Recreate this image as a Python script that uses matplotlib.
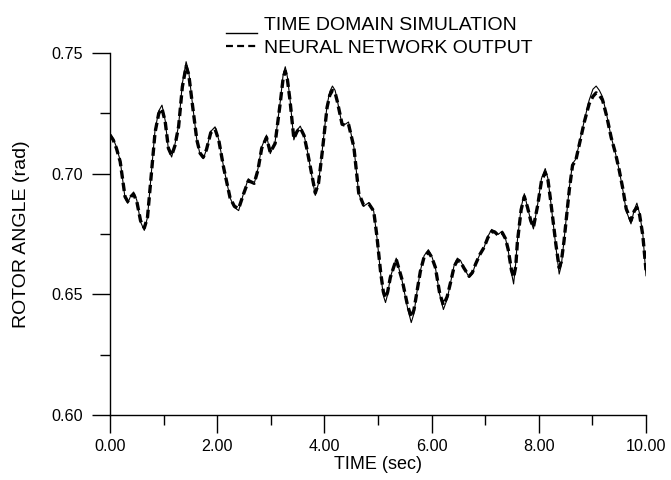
import matplotlib
matplotlib.use("Agg")
import matplotlib.pyplot as plt
from matplotlib.lines import Line2D
from matplotlib.legend_handler import HandlerLine2D
from matplotlib.ticker import MultipleLocator, FormatStrFormatter

time_s = [0.00, 0.06, 0.12, 0.19, 0.28, 0.33, 0.39, 0.44, 0.50, 0.57, 0.64, 0.70,
          0.78, 0.84, 0.91, 0.97, 1.03, 1.09, 1.15, 1.21, 1.28, 1.35, 1.42, 1.47,
          1.53, 1.62, 1.68, 1.74, 1.80, 1.88, 1.96, 2.03, 2.12, 2.24, 2.32, 2.40,
          2.49, 2.58, 2.64, 2.69, 2.76, 2.83, 2.92, 2.99, 3.08, 3.18, 3.23, 3.27,
          3.31, 3.36, 3.43, 3.49, 3.55, 3.62, 3.68, 3.77, 3.83, 3.89, 3.96, 4.05,
          4.10, 4.15, 4.20, 4.24, 4.33, 4.39, 4.45, 4.55, 4.64, 4.73, 4.83, 4.92,
          4.98, 5.05, 5.10, 5.14, 5.18, 5.23, 5.34, 5.45, 5.55, 5.62, 5.67, 5.73,
          5.79, 5.86, 5.94, 6.00, 6.07, 6.15, 6.22, 6.29, 6.36, 6.42, 6.48, 6.54,
          6.60, 6.70, 6.76, 6.82, 6.90, 6.98, 7.05, 7.12, 7.18, 7.24, 7.32, 7.38,
          7.43, 7.49, 7.53, 7.57, 7.60, 7.67, 7.73, 7.79, 7.85, 7.90, 7.98, 8.05,
          8.12, 8.17, 8.22, 8.32, 8.38, 8.42, 8.47, 8.57, 8.63, 8.69, 8.77, 8.85,
          8.94, 9.01, 9.07, 9.13, 9.19, 9.27, 9.35, 9.43, 9.50, 9.57, 9.63, 9.72,
          9.78, 9.83, 9.88, 9.94, 10.00]

time_domain = [0.7167, 0.7145, 0.7110, 0.7055, 0.6900, 0.6877, 0.6910, 0.6924, 0.6890, 0.6800, 0.6765, 0.6820,
               0.7027, 0.7180, 0.7260, 0.7284, 0.7220, 0.7100, 0.7069, 0.7120, 0.7200, 0.7374, 0.7464, 0.7420,
               0.7305, 0.7139, 0.7080, 0.7062, 0.7100, 0.7175, 0.7194, 0.7140, 0.7027, 0.6900, 0.6860, 0.6847,
               0.6917, 0.6979, 0.6968, 0.6958, 0.7020, 0.7111, 0.7160, 0.7083, 0.7131, 0.7305, 0.7410, 0.7443,
               0.7400, 0.7305, 0.7140, 0.7180, 0.7197, 0.7160, 0.7097, 0.6986, 0.6910, 0.6960, 0.7097, 0.7284,
               0.7340, 0.7363, 0.7345, 0.7305, 0.7201, 0.7205, 0.7214, 0.7111, 0.6917, 0.6865, 0.6880, 0.6845,
               0.6736, 0.6584, 0.6495, 0.6466, 0.6500, 0.6570, 0.6650, 0.6556, 0.6445, 0.6383, 0.6420, 0.6515,
               0.6598, 0.6660, 0.6685, 0.6660, 0.6612, 0.6500, 0.6437, 0.6480, 0.6556, 0.6620, 0.6650, 0.6640,
               0.6612, 0.6570, 0.6585, 0.6626, 0.6665, 0.6695, 0.6740, 0.6769, 0.6762, 0.6748, 0.6762, 0.6730,
               0.6681, 0.6590, 0.6543, 0.6630, 0.6722, 0.6860, 0.6917, 0.6860, 0.6806, 0.6771, 0.6875, 0.6980,
               0.7021, 0.6980, 0.6889, 0.6695, 0.6584, 0.6620, 0.6722, 0.6944, 0.7042, 0.7060, 0.7140, 0.7221,
               0.7305, 0.7350, 0.7363, 0.7345, 0.7318, 0.7240, 0.7152, 0.7085, 0.7014, 0.6930, 0.6847, 0.6792,
               0.6850, 0.6878, 0.6835, 0.6751, 0.6577]

neural_net = [0.7160, 0.7140, 0.7105, 0.7050, 0.6905, 0.6885, 0.6905, 0.6915, 0.6885, 0.6805, 0.6775, 0.6820,
              0.7020, 0.7170, 0.7250, 0.7270, 0.7215, 0.7105, 0.7075, 0.7115, 0.7195, 0.7360, 0.7445, 0.7410,
              0.7300, 0.7140, 0.7085, 0.7068, 0.7100, 0.7170, 0.7185, 0.7138, 0.7025, 0.6900, 0.6865, 0.6855,
              0.6915, 0.6970, 0.6965, 0.6960, 0.7015, 0.7105, 0.7150, 0.7088, 0.7125, 0.7300, 0.7395, 0.7425,
              0.7390, 0.7300, 0.7145, 0.7175, 0.7190, 0.7158, 0.7095, 0.6990, 0.6920, 0.6960, 0.7090, 0.7275,
              0.7325, 0.7345, 0.7335, 0.7300, 0.7205, 0.7200, 0.7205, 0.7110, 0.6920, 0.6870, 0.6875, 0.6845,
              0.6740, 0.6590, 0.6510, 0.6485, 0.6510, 0.6570, 0.6645, 0.6560, 0.6455, 0.6405, 0.6435, 0.6515,
              0.6595, 0.6655, 0.6675, 0.6655, 0.6612, 0.6505, 0.6455, 0.6490, 0.6555, 0.6615, 0.6640, 0.6635,
              0.6610, 0.6575, 0.6590, 0.6625, 0.6665, 0.6695, 0.6735, 0.6760, 0.6758, 0.6745, 0.6755, 0.6730,
              0.6685, 0.6600, 0.6570, 0.6615, 0.6715, 0.6850, 0.6905, 0.6860, 0.6805, 0.6778, 0.6870, 0.6970,
              0.7005, 0.6975, 0.6890, 0.6705, 0.6610, 0.6635, 0.6720, 0.6935, 0.7035, 0.7055, 0.7135, 0.7215,
              0.7290, 0.7320, 0.7335, 0.7325, 0.7305, 0.7235, 0.7150, 0.7085, 0.7015, 0.6935, 0.6855, 0.6805,
              0.6845, 0.6860, 0.6830, 0.6745, 0.6600]

series_labels = ["TIME DOMAIN SIMULATION", "NEURAL NETWORK OUTPUT"]
x_label = "TIME (sec)"
y_label = "ROTOR ANGLE (rad)"

plt.rcParams["font.family"] = ["Liberation Sans", "DejaVu Sans"]
plt.rcParams["lines.scale_dashes"] = False

fig = plt.figure(figsize=(6.71, 4.80), dpi=100)
ax = fig.add_axes([110 / 671, 1 - 415 / 480, 536 / 671, 362 / 480])

ax.plot(time_s, neural_net, color="black", lw=2.4, dashes=(6, 3.0), solid_capstyle="butt")
ax.plot(time_s, time_domain, color="black", lw=0.8)

ax.set_xlim(0, 10)
ax.set_ylim(0.60, 0.75)
for s in ("top", "right"):
    ax.spines[s].set_visible(False)
for s in ("left", "bottom"):
    ax.spines[s].set_linewidth(1.0)

ax.xaxis.set_major_locator(MultipleLocator(2))
ax.xaxis.set_minor_locator(MultipleLocator(1))
ax.yaxis.set_major_locator(MultipleLocator(0.05))
ax.yaxis.set_minor_locator(MultipleLocator(0.025))
ax.xaxis.set_major_formatter(FormatStrFormatter("%.2f"))
ax.yaxis.set_major_formatter(FormatStrFormatter("%.2f"))
ax.tick_params(axis="both", which="major", direction="out", length=13, width=1.0, labelsize=11.6)
ax.tick_params(axis="both", which="minor", direction="out", length=7, width=1.0)
ax.tick_params(axis="x", which="major", pad=4.5)
ax.tick_params(axis="y", which="major", pad=6.5)

ax.set_xlabel(x_label, fontsize=13, labelpad=1.5)
ax.set_ylabel(y_label, fontsize=14, labelpad=15.5)


class BaselineHandler(HandlerLine2D):
    def create_artists(self, legend, orig_handle, xdescent, ydescent,
                       width, height, fontsize, trans):
        arts = super().create_artists(legend, orig_handle, xdescent, ydescent,
                                      width, height, fontsize, trans)
        for a in arts:
            a.set_ydata([v - 0.5 * fontsize for v in a.get_ydata()])
        return arts


solid_handle = Line2D([], [], color="black", lw=1.0)
dash_handle = Line2D([], [], color="black", lw=1.6, dashes=(5, 3))
leg = fig.legend([solid_handle, dash_handle], series_labels, loc="upper left",
                 bbox_to_anchor=(226 / 671, 1 - 16 / 480), frameon=False,
                 fontsize=14, borderpad=0, borderaxespad=0, handlelength=1.6,
                 handletextpad=0.33, labelspacing=0.3,
                 handler_map={solid_handle: BaselineHandler()})

fig.savefig("out.png", dpi=100)
